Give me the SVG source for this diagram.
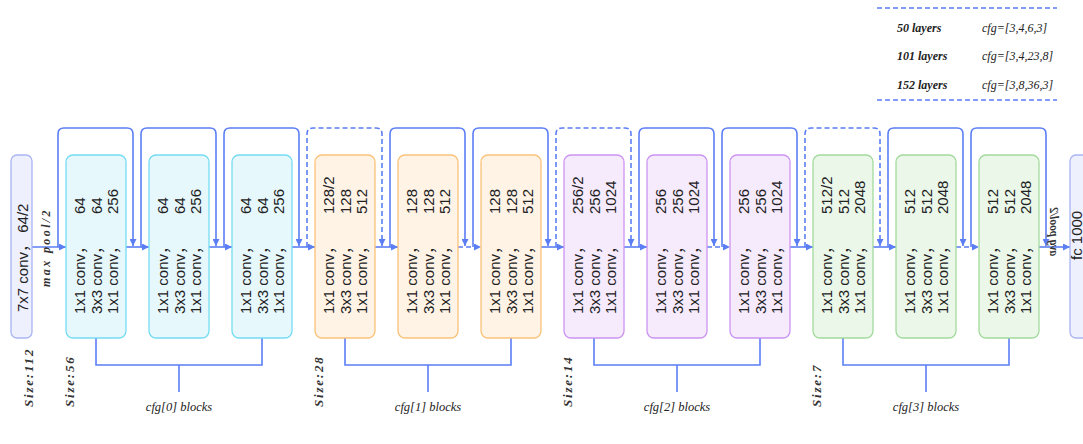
<svg xmlns="http://www.w3.org/2000/svg" width="1083" height="444" viewBox="0 0 1083 444">
  <style>
    .line { fill: none; stroke: #5b7ef5; stroke-width: 1.6; }
    .dash { stroke-dasharray: 5 3; }
    .blk { stroke-width: 1.3; }
    .s1 { fill: #e7f8fd; stroke: #74dcf3; }
    .s2 { fill: #fff3e6; stroke: #fbc27a; }
    .s3 { fill: #f6eafd; stroke: #cb94f1; }
    .s4 { fill: #ebf7e9; stroke: #a3da9d; }
    .io { fill: #eef0fd; stroke: #a9b5f4; }
    .lt { font-family: "Liberation Sans", "Noto Sans CJK SC", Arial, sans-serif; font-size: 15px; fill: #222; }
    .sz { font-family: "Liberation Serif", "Times New Roman", serif; font-size: 13px; font-weight: bold; font-style: italic; letter-spacing: 1.8px; fill: #333; }
    .pl { font-family: "Liberation Serif", "Times New Roman", serif; font-size: 12px; font-weight: bold; font-style: italic; letter-spacing: 2.4px; fill: #333; }
    .pl2 { font-family: "Liberation Serif", "Times New Roman", serif; font-size: 11.5px; font-weight: bold; font-style: italic; fill: #333; }
    .cap { font-family: "Liberation Serif", "Times New Roman", serif; font-size: 12.5px; font-style: italic; fill: #222; text-anchor: middle; }
    .lg { font-family: "Liberation Serif", "Times New Roman", serif; font-size: 12px; font-style: italic; fill: #222; }
    .lgb { font-weight: bold; }
  </style>
  <defs>
    <marker id="ah" viewBox="0 0 10 10" refX="10" refY="5" markerWidth="7" markerHeight="7" markerUnits="userSpaceOnUse" orient="auto">
      <path d="M0,0 L10,5 L0,10 z" fill="#5b7ef5"/>
    </marker>
  </defs>

  <rect width="1083" height="444" fill="#ffffff"/>

  <!-- legend: depth variants -->
  <g id="legend">
    <line x1="877" y1="8" x2="1057" y2="8" class="line dash" stroke-width="1.4"/>
    <text x="897" y="32" class="lg lgb">50 layers</text>
    <text x="982" y="32" class="lg">cfg=[3,4,6,3]</text>
    <text x="897" y="60" class="lg lgb">101 layers</text>
    <text x="982" y="60" class="lg">cfg=[3,4,23,8]</text>
    <text x="897" y="89" class="lg lgb">152 layers</text>
    <text x="982" y="89" class="lg">cfg=[3,8,36,3]</text>
    <line x1="877" y1="100" x2="1057" y2="100" class="line dash" stroke-width="1.4"/>
  </g>

  <!-- connectors: main path, shortcuts, stage brackets -->
  <g id="connectors">
    <!-- main data path -->
    <path class="line" d="M32,247 H66" marker-end="url(#ah)"/>
    <path class="line" d="M126,247 H149" marker-end="url(#ah)"/>
    <path class="line" d="M209,247 H232" marker-end="url(#ah)"/>
    <path class="line" d="M292,247 H315" marker-end="url(#ah)"/>
    <path class="line" d="M375,247 H398" marker-end="url(#ah)"/>
    <path class="line dash" d="M458,247 H481" marker-end="url(#ah)"/>
    <path class="line" d="M541,247 H564" marker-end="url(#ah)"/>
    <path class="line" d="M624,247 H647" marker-end="url(#ah)"/>
    <path class="line dash" d="M707,247 H730" marker-end="url(#ah)"/>
    <path class="line" d="M790,247 H813" marker-end="url(#ah)"/>
    <path class="line" d="M873,247 H896" marker-end="url(#ah)"/>
    <path class="line dash" d="M956,247 H979" marker-end="url(#ah)"/>
    <path class="line" d="M1039,247 H1070" marker-end="url(#ah)"/>

    <!-- identity / projection shortcuts -->
    <path class="line" d="M58,247 V134 Q58,128 64,128 H127 Q133,128 133,134 V246" marker-end="url(#ah)"/>
    <path class="line" d="M141,247 V134 Q141,128 147,128 H210 Q216,128 216,134 V246" marker-end="url(#ah)"/>
    <path class="line" d="M224,247 V134 Q224,128 230,128 H293 Q299,128 299,134 V246" marker-end="url(#ah)"/>
    <path class="line dash" d="M307,247 V134 Q307,128 313,128 H376 Q382,128 382,134 V246" marker-end="url(#ah)"/>
    <path class="line" d="M390,247 V134 Q390,128 396,128 H459 Q465,128 465,134 V246" marker-end="url(#ah)"/>
    <path class="line" d="M473,247 V134 Q473,128 479,128 H542 Q548,128 548,134 V246" marker-end="url(#ah)"/>
    <path class="line dash" d="M556,247 V134 Q556,128 562,128 H625 Q631,128 631,134 V246" marker-end="url(#ah)"/>
    <path class="line" d="M639,247 V134 Q639,128 645,128 H708 Q714,128 714,134 V246" marker-end="url(#ah)"/>
    <path class="line" d="M722,247 V134 Q722,128 728,128 H791 Q797,128 797,134 V246" marker-end="url(#ah)"/>
    <path class="line dash" d="M805,247 V134 Q805,128 811,128 H874 Q880,128 880,134 V246" marker-end="url(#ah)"/>
    <path class="line" d="M888,247 V134 Q888,128 894,128 H957 Q963,128 963,134 V246" marker-end="url(#ah)"/>
    <path class="line" d="M971,247 V134 Q971,128 977,128 H1040 Q1046,128 1046,134 V246" marker-end="url(#ah)"/>

    <!-- stage brackets -->
    <path class="line" d="M96,338 V365 H262 V338 M179,365 V392"/>
    <path class="line" d="M345,338 V365 H511 V338 M428,365 V392"/>
    <path class="line" d="M594,338 V365 H760 V338 M677,365 V392"/>
    <path class="line" d="M843,338 V365 H1009 V338 M926,365 V392"/>
  </g>

  <!-- stem -->
  <g id="stem">
    <rect x="11" y="155" width="21" height="183" rx="6" class="io blk"/>
    <text class="lt" transform="translate(27.5,312) rotate(-90)">7x7 conv， 64/2</text>
  </g>
  <text class="pl" transform="translate(50,287) rotate(-90)">max pool/2</text>

  <!-- stage 1 -->
  <g id="b1">
    <rect x="66" y="155" width="60" height="183" rx="7" class="s1 blk"/>
    <text class="lt" transform="translate(85,314) rotate(-90)">1x1 conv，<tspan x="100">64</tspan></text>
    <text class="lt" transform="translate(101.5,314) rotate(-90)">3x3 conv，<tspan x="100">64</tspan></text>
    <text class="lt" transform="translate(118,314) rotate(-90)">1x1 conv，<tspan x="100">256</tspan></text>
  </g>
  <g id="b2">
    <rect x="149" y="155" width="60" height="183" rx="7" class="s1 blk"/>
    <text class="lt" transform="translate(168,314) rotate(-90)">1x1 conv，<tspan x="100">64</tspan></text>
    <text class="lt" transform="translate(184.5,314) rotate(-90)">3x3 conv，<tspan x="100">64</tspan></text>
    <text class="lt" transform="translate(201,314) rotate(-90)">1x1 conv，<tspan x="100">256</tspan></text>
  </g>
  <g id="b3">
    <rect x="232" y="155" width="60" height="183" rx="7" class="s1 blk"/>
    <text class="lt" transform="translate(251,314) rotate(-90)">1x1 conv，<tspan x="100">64</tspan></text>
    <text class="lt" transform="translate(267.5,314) rotate(-90)">3x3 conv，<tspan x="100">64</tspan></text>
    <text class="lt" transform="translate(284,314) rotate(-90)">1x1 conv，<tspan x="100">256</tspan></text>
  </g>

  <!-- stage 2 -->
  <g id="b4">
    <rect x="315" y="155" width="60" height="183" rx="7" class="s2 blk"/>
    <text class="lt" transform="translate(334,314) rotate(-90)">1x1 conv，<tspan x="100">128/2</tspan></text>
    <text class="lt" transform="translate(350.5,314) rotate(-90)">3x3 conv，<tspan x="100">128</tspan></text>
    <text class="lt" transform="translate(367,314) rotate(-90)">1x1 conv，<tspan x="100">512</tspan></text>
  </g>
  <g id="b5">
    <rect x="398" y="155" width="60" height="183" rx="7" class="s2 blk"/>
    <text class="lt" transform="translate(417,314) rotate(-90)">1x1 conv，<tspan x="100">128</tspan></text>
    <text class="lt" transform="translate(433.5,314) rotate(-90)">3x3 conv，<tspan x="100">128</tspan></text>
    <text class="lt" transform="translate(450,314) rotate(-90)">1x1 conv，<tspan x="100">512</tspan></text>
  </g>
  <g id="b6">
    <rect x="481" y="155" width="60" height="183" rx="7" class="s2 blk"/>
    <text class="lt" transform="translate(500,314) rotate(-90)">1x1 conv，<tspan x="100">128</tspan></text>
    <text class="lt" transform="translate(516.5,314) rotate(-90)">3x3 conv，<tspan x="100">128</tspan></text>
    <text class="lt" transform="translate(533,314) rotate(-90)">1x1 conv，<tspan x="100">512</tspan></text>
  </g>

  <!-- stage 3 -->
  <g id="b7">
    <rect x="564" y="155" width="60" height="183" rx="7" class="s3 blk"/>
    <text class="lt" transform="translate(583,314) rotate(-90)">1x1 conv，<tspan x="100">256/2</tspan></text>
    <text class="lt" transform="translate(599.5,314) rotate(-90)">3x3 conv，<tspan x="100">256</tspan></text>
    <text class="lt" transform="translate(616,314) rotate(-90)">1x1 conv，<tspan x="100">1024</tspan></text>
  </g>
  <g id="b8">
    <rect x="647" y="155" width="60" height="183" rx="7" class="s3 blk"/>
    <text class="lt" transform="translate(666,314) rotate(-90)">1x1 conv，<tspan x="100">256</tspan></text>
    <text class="lt" transform="translate(682.5,314) rotate(-90)">3x3 conv，<tspan x="100">256</tspan></text>
    <text class="lt" transform="translate(699,314) rotate(-90)">1x1 conv，<tspan x="100">1024</tspan></text>
  </g>
  <g id="b9">
    <rect x="730" y="155" width="60" height="183" rx="7" class="s3 blk"/>
    <text class="lt" transform="translate(749,314) rotate(-90)">1x1 conv，<tspan x="100">256</tspan></text>
    <text class="lt" transform="translate(765.5,314) rotate(-90)">3x3 conv，<tspan x="100">256</tspan></text>
    <text class="lt" transform="translate(782,314) rotate(-90)">1x1 conv，<tspan x="100">1024</tspan></text>
  </g>

  <!-- stage 4 -->
  <g id="b10">
    <rect x="813" y="155" width="60" height="183" rx="7" class="s4 blk"/>
    <text class="lt" transform="translate(832,314) rotate(-90)">1x1 conv，<tspan x="100">512/2</tspan></text>
    <text class="lt" transform="translate(848.5,314) rotate(-90)">3x3 conv，<tspan x="100">512</tspan></text>
    <text class="lt" transform="translate(865,314) rotate(-90)">1x1 conv，<tspan x="100">2048</tspan></text>
  </g>
  <g id="b11">
    <rect x="896" y="155" width="60" height="183" rx="7" class="s4 blk"/>
    <text class="lt" transform="translate(915,314) rotate(-90)">1x1 conv，<tspan x="100">512</tspan></text>
    <text class="lt" transform="translate(931.5,314) rotate(-90)">3x3 conv，<tspan x="100">512</tspan></text>
    <text class="lt" transform="translate(948,314) rotate(-90)">1x1 conv，<tspan x="100">2048</tspan></text>
  </g>
  <g id="b12">
    <rect x="979" y="155" width="60" height="183" rx="7" class="s4 blk"/>
    <text class="lt" transform="translate(998,314) rotate(-90)">1x1 conv，<tspan x="100">512</tspan></text>
    <text class="lt" transform="translate(1014.5,314) rotate(-90)">3x3 conv，<tspan x="100">512</tspan></text>
    <text class="lt" transform="translate(1031,314) rotate(-90)">1x1 conv，<tspan x="100">2048</tspan></text>
  </g>

  <!-- head -->
  <text class="pl2" transform="matrix(0,-1,-1,0,1050,256)">avg pool/2</text>
  <g id="fc">
    <rect x="1070" y="155" width="30" height="183" rx="6" class="io blk"/>
    <text class="lt" font-size="13" transform="translate(1082,260) rotate(-90)">fc 1000</text>
  </g>

  <!-- feature map sizes -->
  <text class="sz" transform="translate(33,407) rotate(-90)">Size:112</text>
  <text class="sz" transform="translate(74,407) rotate(-90)">Size:56</text>
  <text class="sz" transform="translate(323,407) rotate(-90)">Size:28</text>
  <text class="sz" transform="translate(572,407) rotate(-90)">Size:14</text>
  <text class="sz" transform="translate(821,407) rotate(-90)">Size:7</text>

  <!-- stage captions -->
  <text class="cap" x="179" y="411">cfg[0] blocks</text>
  <text class="cap" x="428" y="411">cfg[1] blocks</text>
  <text class="cap" x="677" y="411">cfg[2] blocks</text>
  <text class="cap" x="926" y="411">cfg[3] blocks</text>
</svg>
